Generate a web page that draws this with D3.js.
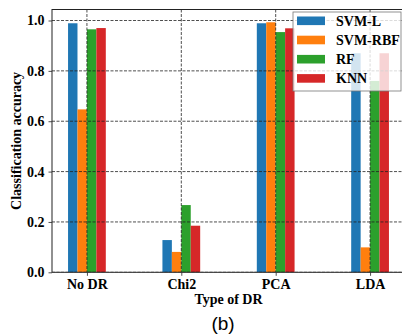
<!DOCTYPE html>
<html>
<head>
<meta charset="utf-8">
<script src="https://cdn.jsdelivr.net/npm/d3@7"></script>
<style>
  body { margin: 0; background: #fff; }
  text { font-family: "Liberation Serif", "Times New Roman", serif; }
</style>
</head>
<body>
<div class="plot"></div>
<script>
// DATA
var categories = ["No DR", "Chi2", "PCA", "LDA"];
var series = ["SVM-L", "SVM-RBF", "RF", "KNN"];
var colors = ["#1f77b4", "#ff7f0e", "#2ca02c", "#d62728"];
var svmL   = [0.989, 0.128, 0.989, 0.870];
var svmRbf = [0.647, 0.081, 0.993, 0.099];
var rf     = [0.965, 0.267, 0.954, 0.760];
var knn    = [0.970, 0.185, 0.969, 0.870];
var yTicks = [0.0, 0.2, 0.4, 0.6, 0.8, 1.0];

var values = [svmL, svmRbf, rf, knn];

var w = 402;
var h = 336;
// axes box (note: "top" is reserved on window, so use prefixed names)
var axLeft = 52, axRight = 405, axTop = 9.5, axBottom = 272.3;
var barW = 0.1;

var svg = d3.select(".plot").append("svg").attr("width", w).attr("height", h);

// SCALES
var xScale = d3.scaleLinear().domain([-0.37, 3.37]).range([axLeft, axRight]);
var yScale = d3.scaleLinear().domain([0, 1.0437]).range([axBottom, axTop]);

// clip to axes box
svg.append("clipPath").attr("id", "clip")
  .append("rect")
  .attr("x", axLeft).attr("y", axTop)
  .attr("width", axRight - axLeft).attr("height", axBottom - axTop);

var plot = svg.append("g").attr("clip-path", "url(#clip)");

// BARS
series.forEach(function (s, j) {
  var offset = (j - 1.5) * barW;
  plot.selectAll(".bar" + j)
    .data(values[j])
    .enter()
    .append("rect")
    .attr("class", "bar" + j)
    .attr("x", function (d, i) { return xScale(i + offset - barW / 2); })
    .attr("width", function (d, i) { return xScale(i + offset + barW / 2) - xScale(i + offset - barW / 2); })
    .attr("y", function (d) { return yScale(d); })
    .attr("height", function (d) { return yScale(0) - yScale(d); })
    .attr("fill", colors[j]);
});

// GRID (drawn over bars)
plot.selectAll(".hgrid")
  .data(yTicks)
  .enter()
  .append("line")
  .attr("class", "hgrid")
  .attr("x1", axLeft).attr("x2", axRight)
  .attr("y1", function (d) { return yScale(d); })
  .attr("y2", function (d) { return yScale(d); })
  .attr("stroke", "#222")
  .attr("stroke-width", 0.8)
  .attr("stroke-dasharray", "3,1.5");

plot.selectAll(".vgrid")
  .data(categories)
  .enter()
  .append("line")
  .attr("class", "vgrid")
  .attr("x1", function (d, i) { return xScale(i); })
  .attr("x2", function (d, i) { return xScale(i); })
  .attr("y1", axTop).attr("y2", axBottom)
  .attr("stroke", "#222")
  .attr("stroke-width", 0.8)
  .attr("stroke-dasharray", "3,1.5");

// AXES
var xAxis = d3.axisBottom(xScale)
  .tickValues(d3.range(categories.length))
  .tickFormat(function (d) { return categories[d]; })
  .tickSizeInner(3.5).tickSizeOuter(0).tickPadding(3);
var yAxis = d3.axisLeft(yScale)
  .tickValues(yTicks)
  .tickFormat(d3.format(".1f"))
  .tickSizeInner(3.5).tickSizeOuter(0).tickPadding(4);

var gx = svg.append("g")
  .attr("transform", "translate(0," + axBottom + ")")
  .call(xAxis);
var gy = svg.append("g")
  .attr("transform", "translate(" + axLeft + ",0)")
  .call(yAxis);

[gx, gy].forEach(function (g) {
  g.select(".domain").remove();
  g.selectAll("line").attr("stroke", "#222").attr("stroke-width", 0.8);
  g.selectAll("text")
    .attr("fill", "#000")
    .style("font-family", "'Liberation Serif', serif")
    .style("font-size", "14px")
    .style("font-weight", "bold");
});

// axes frame
svg.append("rect")
  .attr("x", axLeft).attr("y", axTop)
  .attr("width", axRight - axLeft).attr("height", axBottom - axTop)
  .attr("fill", "none")
  .attr("stroke", "#222")
  .attr("stroke-width", 1);

// LABELS
svg.append("text")
  .attr("x", (axLeft + axRight) / 2)
  .attr("y", 304)
  .attr("text-anchor", "middle")
  .attr("font-size", "14px")
  .attr("font-weight", "bold")
  .text("Type of DR");

svg.append("text")
  .attr("transform", "rotate(-90)")
  .attr("x", -(axTop + axBottom) / 2)
  .attr("y", 21)
  .attr("text-anchor", "middle")
  .attr("font-size", "14px")
  .attr("font-weight", "bold")
  .text("Classification accuracy");

svg.append("text")
  .attr("x", 223)
  .attr("y", 330)
  .attr("text-anchor", "middle")
  .style("font-family", "'Liberation Sans', sans-serif")
  .attr("font-size", "19px")
  .text("(b)");

// LEGEND
var legend = svg.append("g");
legend.append("rect")
  .attr("x", 293).attr("y", 12)
  .attr("width", 108).attr("height", 79)
  .attr("fill", "#fff")
  .attr("fill-opacity", 0.8)
  .attr("stroke", "#777")
  .attr("stroke-width", 0.8);

var items = legend.selectAll(".item")
  .data(series)
  .enter()
  .append("g")
  .attr("class", "item")
  .attr("transform", function (d, i) { return "translate(0," + (20.8 + i * 19.2) + ")"; });

items.append("rect")
  .attr("x", 297).attr("y", -4.3)
  .attr("width", 28).attr("height", 8.6)
  .attr("fill", function (d, i) { return colors[i]; });

items.append("text")
  .attr("x", 336).attr("y", 5)
  .attr("font-size", "14px")
  .attr("font-weight", "bold")
  .text(function (d) { return d; });
</script>
</body>
</html>
